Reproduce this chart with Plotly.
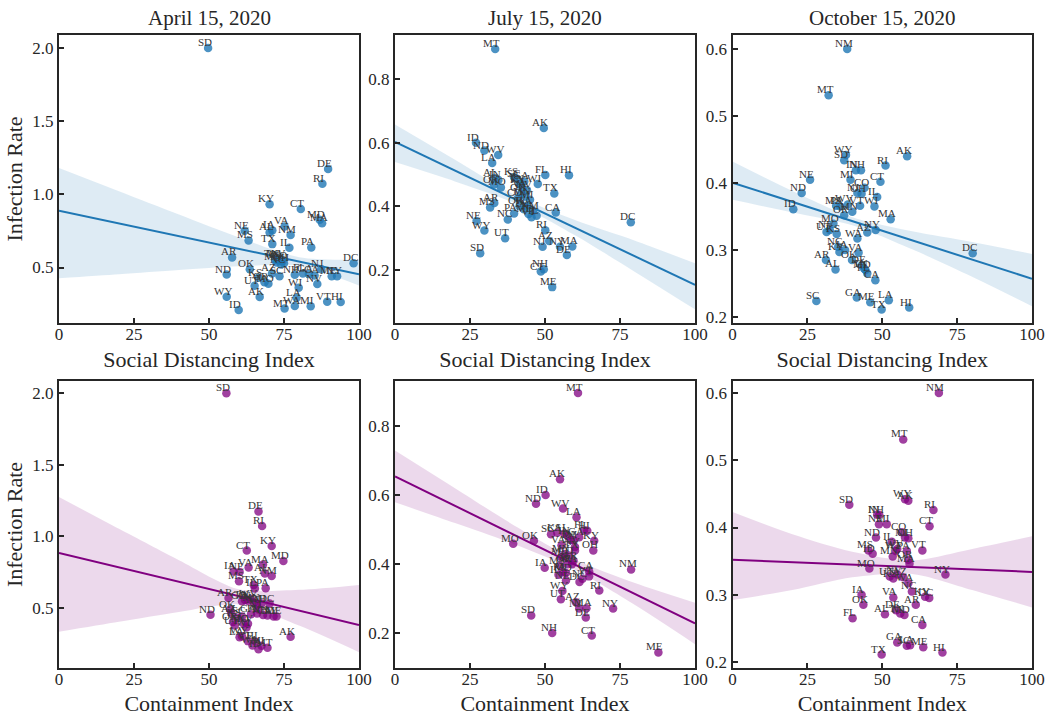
import plotly.graph_objects as go

states = ["AL","AK","AZ","AR","CA","CO","CT","DE","DC","FL","GA","HI","ID","IL","IN","IA","KS","KY","LA","ME",
          "MD","MA","MI","MN","MS","MO","MT","NE","NV","NH","NJ","NM","NY","NC","ND","OH","OK","OR","PA","RI",
          "SC","SD","TN","TX","UT","VT","VA","WA","WV","WI","WY"]

# April 15, 2020
sdi_apr = [70.2,66.9,71.0,57.7,85.2,74.5,80.6,89.7,98.2,81.3,83.3,93.9,59.9,76.8,73.0,71.1,66.5,70.2,79.2,90.9,
           86.9,87.7,83.9,72.5,63.2,69.8,75.2,61.9,86.1,78.6,87.4,77.2,92.7,74.0,55.9,75.0,63.6,68.5,84.1,87.8,
           73.5,49.7,72.0,71.1,65.2,89.4,75.2,78.6,73.5,79.9,55.9]
rate_apr = [0.74,0.298,0.46,0.569,0.446,0.545,0.900,1.174,0.530,0.46,0.455,0.265,0.21,0.635,0.55,0.754,0.43,0.932,0.294,0.44,
            0.827,0.802,0.235,0.535,0.685,0.39,0.22,0.751,0.388,0.45,0.488,0.722,0.44,0.52,0.452,0.53,0.488,0.40,0.637,1.072,
            0.44,2.0,0.555,0.660,0.376,0.267,0.781,0.237,0.56,0.362,0.301]
ci_apr = [68.6,77.2,57.5,56.5,69.5,61.0,62.6,66.5,70.2,66.0,64.0,65.5,66.5,65.3,63.0,58.2,59.5,70.9,60.2,72.5,
          74.8,68.0,67.5,65.0,60.0,61.5,69.5,60.2,63.0,68.0,66.5,70.9,71.5,66.0,50.5,67.5,57.0,58.0,68.9,67.7,
          61.0,55.8,62.0,64.9,58.6,63.0,63.2,64.5,64.0,62.5,61.0]

# July 15, 2020
sdi_jul = [33.1,49.6,51.4,33.1,53.6,41.0,48.6,57.3,78.6,50.1,43.1,58.0,27.0,47.2,34.5,43.0,39.7,42.0,32.4,52.4,
           44.5,59.1,45.0,43.5,31.7,35.3,33.4,27.2,44.0,49.6,49.2,46.0,55.0,37.6,29.8,42.0,33.0,41.5,39.7,50.1,
           40.5,28.4,41.5,53.1,36.7,45.5,42.5,44.0,34.4,47.6,29.8]
rate_jul = [0.489,0.646,0.29,0.41,0.38,0.425,0.194,0.246,0.349,0.498,0.478,0.497,0.60,0.37,0.482,0.39,0.491,0.468,0.536,0.145,
            0.375,0.273,0.42,0.43,0.396,0.459,0.895,0.353,0.45,0.201,0.272,0.385,0.272,0.358,0.575,0.44,0.468,0.40,0.377,0.324,
            0.487,0.252,0.47,0.44,0.299,0.365,0.455,0.40,0.561,0.470,0.323]
ci_jul = [56.5,55.0,60.3,59.5,64.7,58.0,65.6,63.6,61.5,63.0,61.4,64.1,50.2,54.5,57.5,49.9,54.1,66.4,60.5,87.8,
          57.0,63.8,55.5,56.5,55.0,39.4,61.0,57.0,60.0,52.4,61.4,78.7,72.7,62.5,47.0,66.1,46.3,57.5,56.0,68.1,
          52.0,45.4,58.5,60.0,55.3,64.7,55.5,59.0,56.0,59.5,55.8]

# October 15, 2020
sdi_oct = [34.4,58.3,45.0,31.2,47.7,44.1,49.4,43.1,80.2,45.0,41.5,59.0,20.3,48.3,41.2,37.6,34.8,35.7,52.2,46.0,
           44.4,52.8,39.4,40.0,34.6,33.7,32.1,25.9,32.5,42.9,41.7,38.3,47.8,35.3,23.1,43.1,39.9,37.3,36.0,51.1,
           28.0,37.3,44.0,49.8,31.4,42.6,42.1,41.7,38.5,47.4,37.9]
rate_oct = [0.271,0.44,0.326,0.285,0.255,0.393,0.402,0.277,0.295,0.265,0.229,0.214,0.361,0.379,0.419,0.30,0.324,0.297,0.225,0.222,
            0.27,0.346,0.405,0.357,0.366,0.339,0.531,0.405,0.33,0.419,0.385,0.60,0.33,0.305,0.385,0.384,0.285,0.352,0.365,0.426,
            0.224,0.434,0.272,0.211,0.327,0.366,0.296,0.317,0.368,0.365,0.442]
ci_oct = [50.9,58.7,57.0,61.2,63.4,56.5,65.8,54.6,65.7,40.1,55.0,70.1,46.8,53.2,48.3,43.1,53.7,64.3,59.3,63.7,
          57.4,59.1,51.5,53.5,45.4,45.7,57.0,48.9,55.0,49.0,57.6,68.9,71.1,59.9,47.9,58.7,43.7,58.7,58.2,67.1,
          58.2,39.0,56.0,49.8,52.5,63.4,53.7,58.7,55.0,54.5,57.6]

# Regression lines (value at index 0 and at index 100) and 95% bands
fit_x = [0, 100]
fit_sdi_apr = [0.889, 0.454]
fit_sdi_jul = [0.602, 0.152]
fit_sdi_oct = [0.4005, 0.257]
fit_ci_apr = [0.883, 0.380]
fit_ci_jul = [0.654, 0.229]
fit_ci_oct = [0.352, 0.334]

band_x = [0, 20, 40, 60, 80, 100]
band_lo_sdi_apr = [0.427, 0.454, 0.483, 0.508, 0.511, 0.378]
band_hi_sdi_apr = [1.181, 1.022, 0.863, 0.706, 0.571, 0.553]
band_lo_sdi_jul = [0.539, 0.478, 0.409, 0.308, 0.193, 0.075]
band_hi_sdi_jul = [0.657, 0.546, 0.435, 0.356, 0.291, 0.220]
band_lo_sdi_oct = [0.375, 0.356, 0.337, 0.301, 0.260, 0.216]
band_hi_sdi_oct = [0.432, 0.388, 0.349, 0.328, 0.312, 0.294]
band_lo_ci_apr = [0.332, 0.402, 0.471, 0.523, 0.376, 0.190]
band_hi_ci_apr = [1.275, 1.052, 0.833, 0.629, 0.626, 0.660]
band_lo_ci_jul = [0.579, 0.519, 0.457, 0.384, 0.282, 0.169]
band_hi_ci_jul = [0.729, 0.620, 0.511, 0.414, 0.346, 0.289]
band_lo_ci_oct = [0.292, 0.307, 0.326, 0.331, 0.307, 0.281]
band_hi_ci_oct = [0.423, 0.390, 0.364, 0.351, 0.368, 0.387]

titles = ["April 15, 2020", "July 15, 2020", "October 15, 2020"]
xlabels = ["Social Distancing Index", "Containment Index"]
ylabel = "Infection Rate"
xticks = [0, 25, 50, 75, 100]
yticks = [[0.5, 1.0, 1.5, 2.0], [0.2, 0.4, 0.6, 0.8], [0.2, 0.3, 0.4, 0.5, 0.6]]

panels = [
    (sdi_apr, rate_apr, fit_sdi_apr, band_lo_sdi_apr, band_hi_sdi_apr, "blue"),
    (sdi_jul, rate_jul, fit_sdi_jul, band_lo_sdi_jul, band_hi_sdi_jul, "blue"),
    (sdi_oct, rate_oct, fit_sdi_oct, band_lo_sdi_oct, band_hi_sdi_oct, "blue"),
    (ci_apr, rate_apr, fit_ci_apr, band_lo_ci_apr, band_hi_ci_apr, "purple"),
    (ci_jul, rate_jul, fit_ci_jul, band_lo_ci_jul, band_hi_ci_jul, "purple"),
    (ci_oct, rate_oct, fit_ci_oct, band_lo_ci_oct, band_hi_ci_oct, "purple"),
]
yranges = [[0.121, 2.089], [0.032, 0.939], [0.191, 0.621],
           [0.079, 2.086], [0.10, 0.93], [0.191, 0.618]]

colors = {
    "blue": dict(pt="rgba(31,119,180,0.8)", line="#1f77b4", band="rgba(31,119,180,0.15)"),
    "purple": dict(pt="rgba(128,0,128,0.75)", line="#800080", band="rgba(128,0,128,0.15)"),
}

FONT = "Liberation Serif"
INK = "#262626"
W, H = 1046, 716
ml, mr, mt, mb = 59, 14, 35, 48
pw, ph = W - ml - mr, H - mt - mb
col_px = [(59, 359), (395, 695), (732.5, 1032)]
row_px = [(35, 323), (381, 668)]
xdom = [[(a - ml) / pw, min(1, (b - ml) / pw)] for a, b in col_px]
ydom = [[(H - mb - b) / ph, min(1, (H - mb - a) / ph)] for a, b in row_px]

fig = go.Figure()
layout = dict(width=W, height=H, margin=dict(l=ml, r=mr, t=mt, b=mb, autoexpand=False),
              paper_bgcolor="white", plot_bgcolor="white", showlegend=False,
              font=dict(family=FONT, color=INK))
annotations = []

for i, (xs, ys, fit, blo, bhi, cname) in enumerate(panels):
    r, c = divmod(i, 3)
    k = i + 1
    xa = "x" if k == 1 else f"x{k}"
    ya = "y" if k == 1 else f"y{k}"
    col = colors[cname]
    fig.add_trace(go.Scatter(x=band_x, y=blo, mode="lines", line=dict(width=0, shape="spline", smoothing=0.8),
                             hoverinfo="skip", xaxis=xa, yaxis=ya))
    fig.add_trace(go.Scatter(x=band_x, y=bhi, mode="lines", line=dict(width=0, shape="spline", smoothing=0.8),
                             fill="tonexty", fillcolor=col["band"], hoverinfo="skip", xaxis=xa, yaxis=ya))
    fig.add_trace(go.Scatter(x=xs, y=ys, mode="markers", text=states,
                             marker=dict(size=8.5, color=col["pt"], line=dict(width=0)),
                             xaxis=xa, yaxis=ya))
    fig.add_trace(go.Scatter(x=fit_x, y=fit, mode="lines", line=dict(color=col["line"], width=2),
                             xaxis=xa, yaxis=ya))
    for s, xv, yv in zip(states, xs, ys):
        annotations.append(dict(text=s, x=xv, y=yv, xref=xa, yref=ya, showarrow=False,
                                xanchor="center", yanchor="bottom", xshift=-3.5, yshift=-2,
                                font=dict(family=FONT, size=11, color="#363636")))
    axis_common = dict(showline=True, mirror=True, linecolor=INK, linewidth=2,
                       ticks="inside", ticklen=5, tickwidth=1.5, tickcolor=INK,
                       showgrid=False, zeroline=False, automargin=False,
                       tickfont=dict(family=FONT, size=17, color=INK))
    layout["xaxis" if k == 1 else f"xaxis{k}"] = dict(
        axis_common, domain=xdom[c], range=[0, 100], tickvals=xticks, ticklabelstandoff=-5,
        anchor=ya, title=dict(text=xlabels[r], font=dict(family=FONT, size=22, color=INK), standoff=8))
    ydict = dict(axis_common, domain=ydom[r], range=yranges[i], tickvals=yticks[c],
                 tickformat=".1f", anchor=xa)
    if c == 0:
        ydict["title"] = dict(text=ylabel, font=dict(family=FONT, size=22, color=INK), standoff=4)
    layout["yaxis" if k == 1 else f"yaxis{k}"] = ydict

for c in range(3):
    annotations.append(dict(text=titles[c], x=(xdom[c][0] + xdom[c][1]) / 2, y=1, xref="paper", yref="paper",
                            xanchor="center", yanchor="bottom", yshift=3, showarrow=False,
                            font=dict(family=FONT, size=21, color=INK)))
layout["annotations"] = annotations
fig.update_layout(**layout)
fig.write_html("out.html")
